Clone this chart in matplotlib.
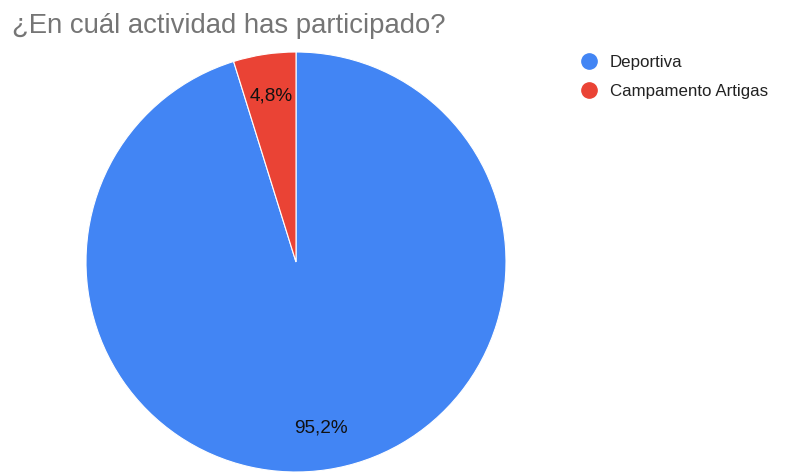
import matplotlib
matplotlib.use("Agg")
import matplotlib.pyplot as plt
from matplotlib.lines import Line2D

plt.rcParams['font.family'] = ['Liberation Sans', 'DejaVu Sans']

title = "¿En cuál actividad has participado?"
categories = ["Deportiva", "Campamento Artigas"]
values = [95.2, 4.8]
colors = ["#4285F4", "#EA4335"]

W, H = 793, 474
fig = plt.figure(figsize=(W / 100, H / 100), dpi=100)
cx, cy, r = 296, 262, 210
ax = fig.add_axes([(cx - r) / W, 1 - (cy + r) / H, 2 * r / W, 2 * r / H])

def fmt(p):
    return f"{p:.1f}%".replace(".", ",")

wedges, texts, autotexts = ax.pie(
    values, colors=colors, startangle=90, counterclock=False,
    autopct=fmt, pctdistance=0.8,
    wedgeprops=dict(linewidth=0.8, edgecolor="white"),
    textprops=dict(fontsize=13.7, color="#111111"))
ax.set_aspect("equal")
ax.set_xlim(-1, 1)
ax.set_ylim(-1, 1)

fig.text(12 / W, 1 - 33 / H, title, fontsize=19.8, color="#757575",
         ha="left", va="baseline")

handles = [Line2D([], [], marker="o", linestyle="none", markersize=11,
                  markerfacecolor=c, markeredgecolor=c) for c in colors]
fig.legend(handles, categories, loc="upper left",
           bbox_to_anchor=(581 / W, 1 - 55 / H), frameon=False,
           fontsize=12.2, handlelength=1.0, handletextpad=0.7,
           labelspacing=0.85, borderaxespad=0, borderpad=0,
           labelcolor="#222222")

fig.savefig("out.png", dpi=100)
